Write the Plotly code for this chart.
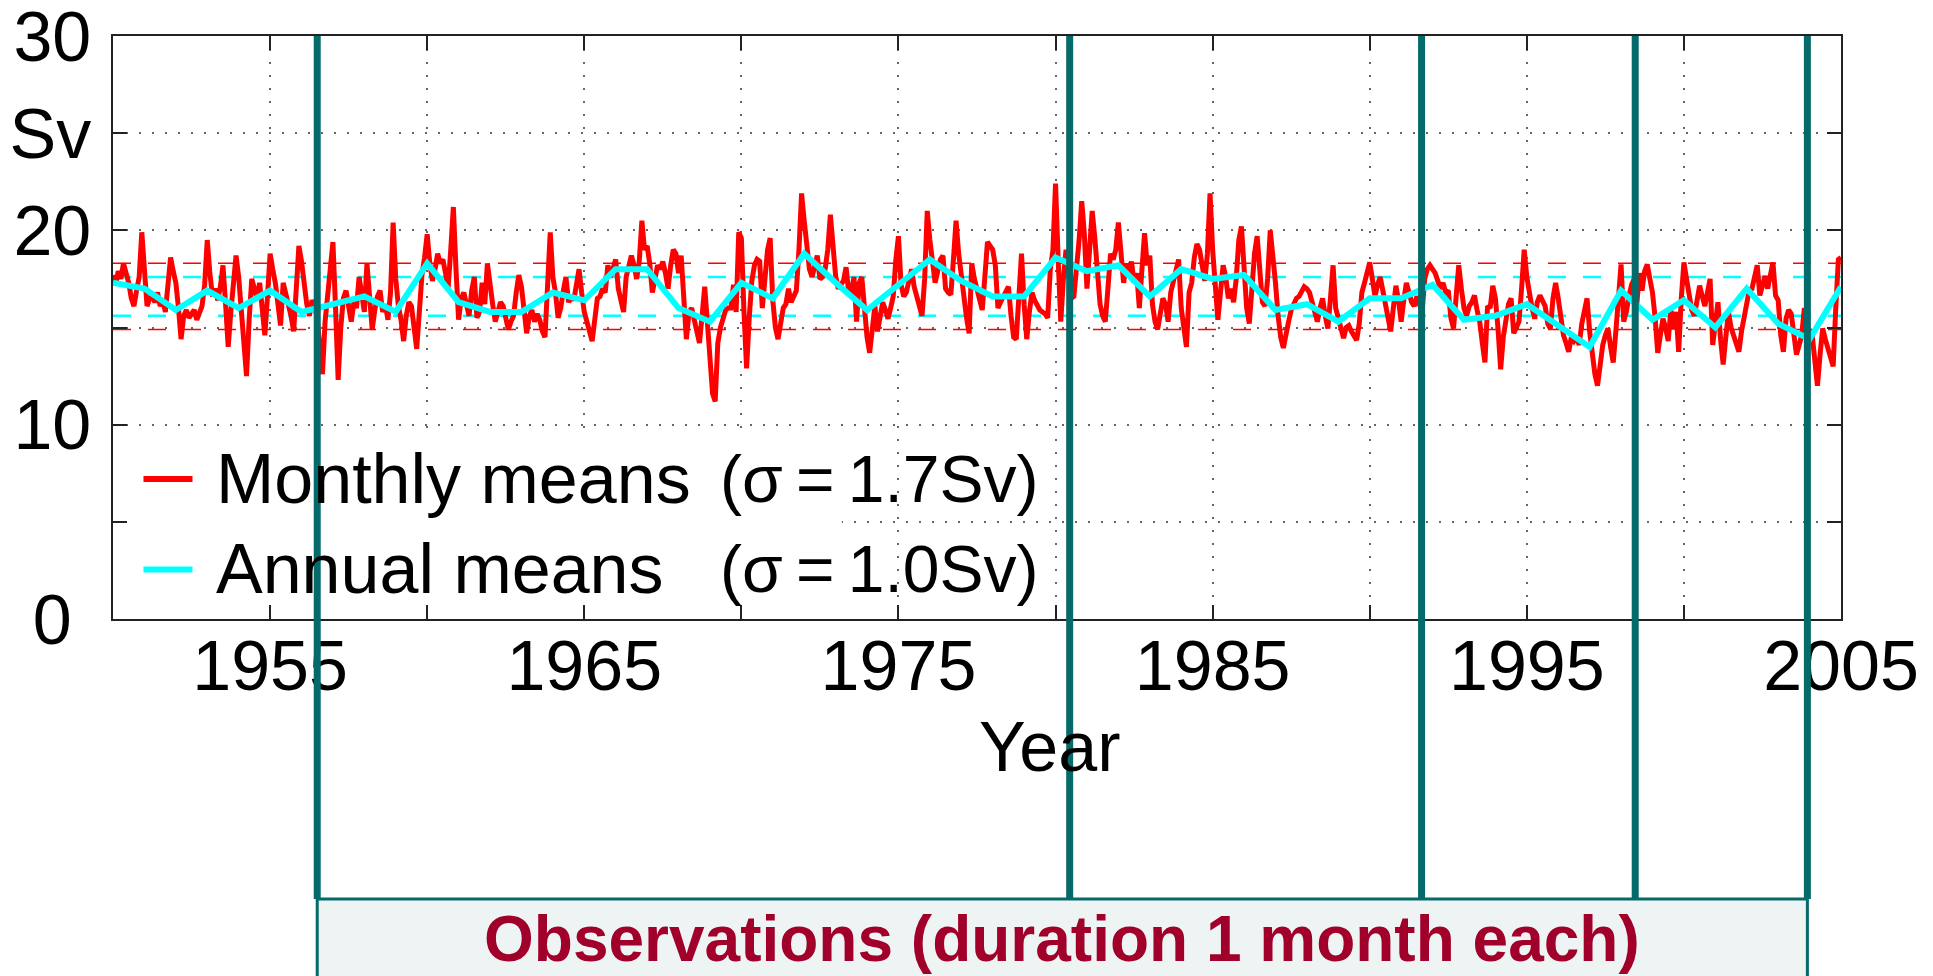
import plotly.graph_objects as go

# Monthly mean transport (Sv), Jan 1950 onwards, twelve values per year
monthly_1950s = [
    17.7, 17.2, 17.9, 17.5, 18.3, 17.8, 17.3, 16.5, 16.1, 16.9, 17.6, 19.9,
    17.6, 16.1, 16.5, 16.6, 16.3, 16.8, 16.1, 16.4, 15.8, 17.2, 18.6, 17.9,
    17.3, 16.0, 14.4, 15.6, 15.9, 15.5, 15.7, 15.9, 15.4, 15.8, 16.1, 17.2,
    19.5, 17.8, 16.6, 17.0, 16.4, 17.1, 18.2, 16.2, 14.0, 15.8, 17.2, 18.7,
    17.6, 16.0, 14.6, 12.5, 15.4, 17.5, 17.0, 16.5, 17.3, 16.2, 14.6, 16.6,
    18.8, 18.0, 17.3, 16.2, 15.1, 17.3, 16.8, 16.3, 15.6, 14.8, 16.9, 19.2,
    18.4, 17.0, 16.2, 15.6, 16.4, 16.1, 15.5, 14.0, 12.6, 15.3, 16.8, 18.2,
    19.4, 16.0, 12.3, 15.0, 16.5, 16.9, 16.2, 15.3, 16.3, 16.0, 17.6, 16.6,
    15.8, 18.3, 16.5, 14.9, 15.9, 16.6, 16.9, 15.8, 16.2, 15.4, 16.8, 20.4,
    17.5, 16.1, 15.4, 14.3, 15.6, 16.3, 16.1, 15.2, 13.9, 15.8, 17.7, 18.6,
]
monthly_1960s = [
    19.8, 18.3, 17.4, 18.0, 18.8, 18.3, 18.5, 17.8, 17.0, 19.0, 21.2, 18.0,
    15.4, 16.5, 16.8, 16.2, 15.6, 16.9, 17.6, 15.5, 15.8, 17.3, 16.2, 18.3,
    17.0, 16.2, 15.3, 15.9, 16.3, 16.1, 15.4, 14.9, 15.3, 15.6, 16.8, 17.7,
    17.1, 15.6, 14.7, 15.6, 15.9, 15.3, 15.7, 15.4, 14.8, 14.5, 17.5, 19.9,
    17.6, 16.8, 15.5, 16.0, 16.9, 17.6, 16.3, 16.6, 16.4, 17.1, 18.0, 16.8,
    15.8, 15.3, 14.9, 14.3, 15.4, 16.5, 16.6, 17.0, 16.8, 18.2, 17.6, 18.0,
    18.5, 17.0, 16.4, 15.8, 17.6, 18.1, 18.7, 18.2, 17.5, 18.4, 20.5, 19.0,
    19.2, 18.3, 16.8, 17.5, 18.2, 18.0, 18.4, 17.8, 17.0, 18.2, 19.0, 18.8,
    17.8, 18.7, 16.5, 14.4, 15.8, 16.0, 15.4, 14.8, 14.2, 15.6, 17.1, 15.3,
    13.8, 11.6, 11.2, 14.2, 15.0, 15.4, 15.9, 16.0, 16.0, 17.2, 15.8, 19.9,
]
monthly_1970s = [
    19.6, 15.8, 12.9, 15.5, 17.4, 18.2, 18.5, 18.4, 16.0, 17.5, 19.0, 19.6,
    16.4, 15.0, 14.4, 15.2, 16.0, 16.2, 17.0, 16.3, 16.6, 16.9, 19.0, 21.9,
    20.5, 19.0, 18.0, 17.6, 18.3, 18.7, 17.5, 17.6, 18.0, 19.0, 20.8, 19.5,
    17.65, 17.0, 17.2, 17.4, 18.1, 16.8, 16.8, 17.6, 15.3, 17.3, 17.6, 16.0,
    14.5, 13.7, 14.9, 16.1, 14.8, 15.6, 16.3, 15.9, 15.45, 16.0, 16.6, 18.5,
    19.7, 17.2, 16.6, 16.8, 17.4, 18.0, 17.1, 16.6, 16.0, 15.6, 17.5, 21.0,
    19.5, 18.2, 17.3, 17.9, 18.5, 18.7, 17.0, 16.8, 16.7, 18.5, 20.5, 18.8,
    17.6, 16.8, 15.5, 14.7, 18.3, 17.5, 17.0, 16.5, 15.9, 17.6, 19.4, 19.2,
    19.0, 18.2, 16.0, 16.3, 16.6, 16.9, 17.1, 15.6, 14.5, 14.4, 16.8, 18.8,
    16.2, 14.4, 15.8, 16.8, 16.4, 16.1, 15.9, 15.8, 15.7, 15.5, 18.0, 19.0,
]
monthly_1980s = [
    22.4, 18.5, 15.3, 17.5, 19.0, 18.0, 16.5, 16.6, 18.0, 19.5, 21.5, 19.8,
    17.0, 19.5, 21.0, 19.6, 18.0, 16.2, 15.6, 15.3, 17.0, 18.8, 18.5, 19.0,
    20.4, 18.6, 17.3, 18.3, 17.8, 18.4, 17.3, 17.8, 16.0, 18.0, 19.85, 18.2,
    18.7, 16.2, 15.3, 14.9, 15.6, 16.5, 16.2, 15.3, 16.8, 17.4, 18.0, 18.5,
    16.0, 15.0, 14.0, 16.8, 17.3, 18.6, 19.3, 19.0, 18.0, 17.4, 18.8, 21.9,
    19.0, 17.0, 15.4, 16.8, 18.2, 17.6, 16.5, 17.0, 16.3, 17.5, 19.5, 20.2,
    18.2, 16.0, 15.2, 17.3, 18.8, 19.7, 17.8, 16.3, 16.1, 17.5, 20.0, 18.9,
    17.3, 15.6, 14.5, 13.95, 14.8, 15.3, 15.9, 16.3, 16.5, 16.6, 16.8, 17.1,
    17.0, 16.8, 16.3, 15.7, 15.3, 16.0, 16.5, 15.6, 14.95, 16.5, 18.2, 16.0,
    15.45, 14.9, 14.45, 15.0, 15.1, 14.8, 14.6, 14.35, 15.2, 16.8, 17.3, 17.9,
]
monthly_1990s = [
    18.35, 17.5, 16.6, 17.2, 17.6, 16.9, 16.3, 15.5, 14.8, 15.8, 17.15, 16.4,
    15.3, 16.4, 17.3, 16.8, 16.3, 16.1, 16.6, 16.2, 15.8, 17.5, 18.0, 18.2,
    18.0, 17.8, 17.4, 17.0, 17.3, 16.8, 16.9, 15.5, 14.95, 16.5, 18.2, 17.0,
    16.0, 15.6, 16.1, 16.3, 16.65, 15.9, 15.3, 14.2, 13.2, 16.1, 16.0, 17.15,
    16.5, 14.95, 12.85, 14.5, 15.6, 16.2, 16.5, 14.7, 15.0, 15.3, 17.0, 19.0,
    17.6, 16.65, 16.0, 15.45, 16.3, 16.65, 16.4, 16.1, 15.2, 14.95, 16.5, 17.3,
    16.5, 15.6, 14.6, 14.2, 13.75, 14.5, 14.3, 14.5, 14.1, 15.2, 16.0, 16.5,
    14.8, 13.6, 12.6, 12.0, 13.2, 14.1, 14.6, 14.95, 14.0, 13.2, 14.8, 16.65,
    18.25, 15.3, 15.8, 16.6, 17.2, 17.5, 16.2, 17.8, 16.9, 17.9, 18.25, 17.5,
    16.8, 15.5, 13.7, 14.6, 15.45, 15.0, 14.3, 15.9, 14.9, 15.8, 13.75, 16.5,
]
monthly_2000s = [
    18.35, 17.5, 16.65, 15.9, 15.6, 16.4, 17.15, 16.6, 16.1, 16.8, 17.5, 14.1,
    15.1, 16.3, 14.4, 13.1, 14.5, 15.8, 15.0, 14.6, 14.2, 13.75, 14.8, 15.6,
    16.2, 16.95, 17.0, 17.6, 18.2, 16.65, 17.2, 17.65, 17.0, 17.8, 18.35, 16.65,
    16.4, 14.6, 13.75, 15.45, 15.9, 15.7, 14.8, 13.6, 14.1, 14.6, 16.0, 14.2,
    14.9, 14.6, 13.3, 12.0, 13.6, 14.95, 14.4, 13.9, 13.5, 13.0, 16.0, 18.5,
    18.6,
]

# Annual means (Sv), 1950-2005
annual_years = list(range(1950, 2006))
annual_means = [
    17.3, 17.0, 15.9, 16.9, 16.0, 16.9, 15.8, 16.2, 16.6, 15.8,
    18.3, 16.3, 15.8, 15.8, 16.8, 16.4, 18.0, 18.0, 16.0, 15.3,
    17.3, 16.5, 18.8, 17.3, 15.9, 17.2, 18.5, 17.4, 16.6, 16.6,
    18.6, 17.9, 18.2, 16.6, 18.0, 17.5, 17.7, 15.9, 16.2, 15.3,
    16.5, 16.5, 17.2, 15.4, 15.6, 16.2, 15.1, 14.0, 16.9, 15.4,
    16.4, 15.0, 17.0, 15.2, 14.4, 17.1,
]

# Long-term mean and standard deviations (Sv)
mean_sv = 16.6
sigma_monthly = 1.7
sigma_annual = 1.0

# Times of the one-month observation campaigns (decimal years)
obs_years = [1956.5, 1980.45, 1991.65, 1998.45, 2003.93]

# Axis ticks
x_tickvals = list(range(1950, 2006, 5))
x_ticktext = ["", "1955", "", "1965", "", "1975", "", "1985", "", "1995", "", "2005"]
y_tickvals = [0, 5, 10, 15, 20, 25, 30]
y_ticktext = ["0\u2008", "", "10", "", "20", "Sv", "30"]

monthly_means = (monthly_1950s + monthly_1960s + monthly_1970s
                 + monthly_1980s + monthly_1990s + monthly_2000s)
monthly_times = [1950 + i / 12 for i in range(len(monthly_means))]

RED = "#FF0000"
CYAN = "#00FFFF"
TEAL = "#046A6A"
FONT = "Liberation Sans, Arial, Helvetica, sans-serif"

fig = go.Figure()

# +/- sigma levels as dashed reference lines
for level, color, width in [
    (mean_sv + sigma_monthly, RED, 1.5),
    (mean_sv - sigma_monthly, RED, 1.5),
    (mean_sv + sigma_annual, CYAN, 2.5),
    (mean_sv - sigma_annual, CYAN, 2.5),
]:
    fig.add_trace(go.Scatter(
        x=[1950, 2005], y=[level, level], mode="lines",
        line=dict(color=color, width=width, dash="18px,17px"),
        hoverinfo="skip", showlegend=False,
    ))

fig.add_trace(go.Scatter(
    x=monthly_times, y=monthly_means, mode="lines",
    line=dict(color=RED, width=5), name="Monthly means", showlegend=False,
))
fig.add_trace(go.Scatter(
    x=annual_years, y=annual_means, mode="lines",
    line=dict(color=CYAN, width=6), name="Annual means", showlegend=False,
))

shapes = []
# blank area behind the legend
shapes.append(dict(type="rect", xref="x", yref="y", x0=1950, x1=1973.2, y0=0, y1=9.3,
                   fillcolor="white", line=dict(width=0), layer="between"))

# legend line samples and labels
legend_rows = [
    ("Monthly means", f"(\u03c3\u2009=\u2009{sigma_monthly:.1f}Sv)", RED, 7.2),
    ("Annual means", f"(\u03c3\u2009=\u2009{sigma_annual:.1f}Sv)", CYAN, 2.55),
]
annotations = []
for label, sigma_text, color, yrow in legend_rows:
    shapes.append(dict(type="line", xref="x", yref="y", x0=1950.97, x1=1952.53,
                       y0=yrow, y1=yrow, line=dict(color=color, width=6), layer="above"))
    annotations.append(dict(xref="x", yref="y", x=1953.2, y=yrow, text=label,
                            showarrow=False, xanchor="left", yanchor="middle",
                            font=dict(family=FONT, size=70, color="black")))
    annotations.append(dict(xref="x", yref="y", x=1969.25, y=yrow, text=sigma_text,
                            showarrow=False, xanchor="left", yanchor="middle",
                            font=dict(family=FONT, size=66, color="black")))

# observation box below the axes
box_top = -0.4803
shapes.append(dict(type="rect", xref="x", yref="paper", x0=obs_years[0], x1=obs_years[-1],
                   y0=box_top, y1=-0.75, fillcolor="#EEF4F4",
                   line=dict(color=TEAL, width=3), layer="above"))
for t in obs_years:
    shapes.append(dict(type="line", xref="x", yref="paper", x0=t, x1=t, y0=box_top, y1=1.0,
                       line=dict(color=TEAL, width=7), layer="above"))

annotations.append(dict(xref="x", yref="paper", x=(obs_years[0] + obs_years[-1]) / 2, y=-0.549,
                        text="<b>Observations (duration 1 month each)</b>", showarrow=False,
                        xanchor="center", yanchor="middle",
                        font=dict(family=FONT, size=64, color="#A0002A")))
annotations.append(dict(xref="paper", yref="paper", x=0.542, y=-0.2196, text="Year",
                        showarrow=False, xanchor="center", yanchor="middle",
                        font=dict(family=FONT, size=70, color="black")))

axis_common = dict(
    ticks="inside", ticklen=14, tickwidth=1.5, tickcolor="#222",
    showline=True, linecolor="#222", linewidth=1.5, mirror="ticks",
    showgrid=True, gridcolor="#666", gridwidth=1.5, griddash="2px,11px",
    zeroline=False, automargin=False, ticklabeloverflow="allow",
    tickfont=dict(family=FONT, size=70, color="black"),
)

fig.update_layout(
    width=1933, height=976,
    margin=dict(l=113, r=92, t=36, b=357),
    paper_bgcolor="white", plot_bgcolor="white",
    xaxis=dict(range=[1950, 2005], tickmode="array", tickvals=x_tickvals,
               ticktext=x_ticktext, ticklabelstandoff=-15, **axis_common),
    yaxis=dict(range=[0, 30], tickmode="array", tickvals=y_tickvals,
               ticktext=y_ticktext, ticklabelstandoff=6, **axis_common),
    shapes=shapes, annotations=annotations, showlegend=False,
)

fig.write_html("out.html")
